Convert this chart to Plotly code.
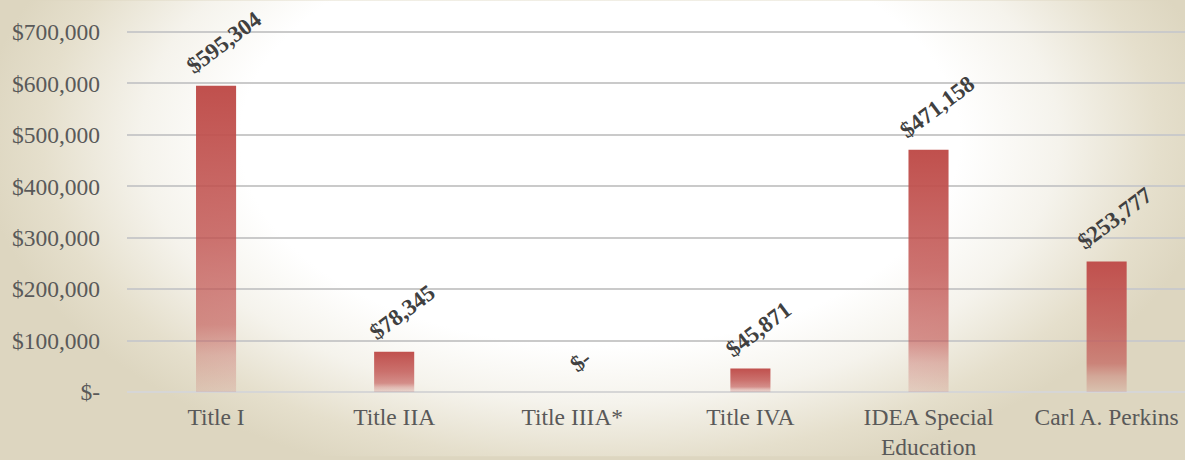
import base64
import plotly.graph_objects as go

# ---- data ----
categories = ["Title I", "Title IIA", "Title IIIA*", "Title IVA", "IDEA Special<br>Education", "Carl A. Perkins"]
values = [595304, 78345, 0, 45871, 471158, 253777]
y_tickvals = [0, 100000, 200000, 300000, 400000, 500000, 600000, 700000]
y_ticktext = ["$-", "$100,000", "$200,000", "$300,000", "$400,000", "$500,000", "$600,000", "$700,000"]

W, H = 1185, 460
ML, MR, MT, MB = 127, 0, 28, 65
Y_TOP = 707713
BAR_W = 0.225
SERIF = "Liberation Serif, Times New Roman, serif"

# radial background as SVG image
svg = f'''<svg xmlns="http://www.w3.org/2000/svg" width="{W}" height="{H}" viewBox="0 0 {W} {H}">
<defs><radialGradient id="g" gradientUnits="userSpaceOnUse" cx="0" cy="0" r="1"
 gradientTransform="translate(600,140) scale(620,360)">
<stop offset="0" stop-color="#FFFFFF"/>
<stop offset="0.58" stop-color="#FFFFFF"/>
<stop offset="0.74" stop-color="#F5F3EC"/>
<stop offset="0.9" stop-color="#E5DFCC"/>
<stop offset="1" stop-color="#DDD6C0"/>
</radialGradient></defs>
<rect x="0" y="0" width="{W}" height="{H}" fill="url(#g)"/></svg>'''
svg_uri = "data:image/svg+xml;base64," + base64.b64encode(svg.encode()).decode()

pw = W - ML - MR
ph = H - MT - MB

fig = go.Figure()

grad = [[0.0, "rgba(192,80,77,0.15)"], [0.12, "rgba(192,80,77,0.35)"],
        [0.22, "rgba(192,80,77,0.62)"], [0.5, "rgba(192,80,77,0.80)"],
        [1.0, "rgba(192,80,77,1)"]]

for i, v in enumerate(values):
    if v > 0:
        fig.add_trace(go.Scatter(
            x=[i - BAR_W / 2, i + BAR_W / 2, i + BAR_W / 2, i - BAR_W / 2, i - BAR_W / 2],
            y=[0, 0, v, v, 0],
            mode="none", fill="toself",
            fillgradient=dict(type="vertical", colorscale=grad),
            showlegend=False, hoverinfo="skip"))
    label = "$-" if v == 0 else f"${v:,}"
    fig.add_annotation(x=i, y=v, xref="x", yref="y", text=f"<b>{label}</b>",
                       showarrow=False, textangle=-37, xanchor="center", yanchor="bottom",
                       xshift=8, yshift=4 if v > 0 else 12,
                       font=dict(family=SERIF, size=23, color="#404040"))

fig.update_layout(
    width=W, height=H,
    margin=dict(l=ML, r=MR, t=MT, b=MB, pad=0),
    paper_bgcolor="#DDD6C0",
    plot_bgcolor="rgba(0,0,0,0)",
    showlegend=False,
    images=[dict(source=svg_uri, xref="paper", yref="paper",
                 x=-ML / pw, y=1 + MT / ph, sizex=W / pw, sizey=H / ph,
                 xanchor="left", yanchor="top", sizing="stretch", layer="below")],
    xaxis=dict(range=[-0.5, 5.44], tickvals=list(range(len(categories))), ticktext=categories,
               showgrid=False, zeroline=False, showline=False, ticks="",
               ticklabelstandoff=8,
               tickfont=dict(family=SERIF, size=23.5, color="#595959"), fixedrange=True),
    yaxis=dict(range=[0, Y_TOP], tickvals=y_tickvals, ticktext=y_ticktext,
               showgrid=True, gridcolor="#CACACA", gridwidth=2,
               zeroline=True, zerolinecolor="#D6D6D6", zerolinewidth=2,
               showline=False, ticks="", ticklabelstandoff=26,
               tickfont=dict(family=SERIF, size=23.5, color="#595959"), fixedrange=True),
)

fig.write_html("out.html", config={"displayModeBar": False},
               post_script="document.body.style.margin='0';document.body.style.overflow='hidden';")
